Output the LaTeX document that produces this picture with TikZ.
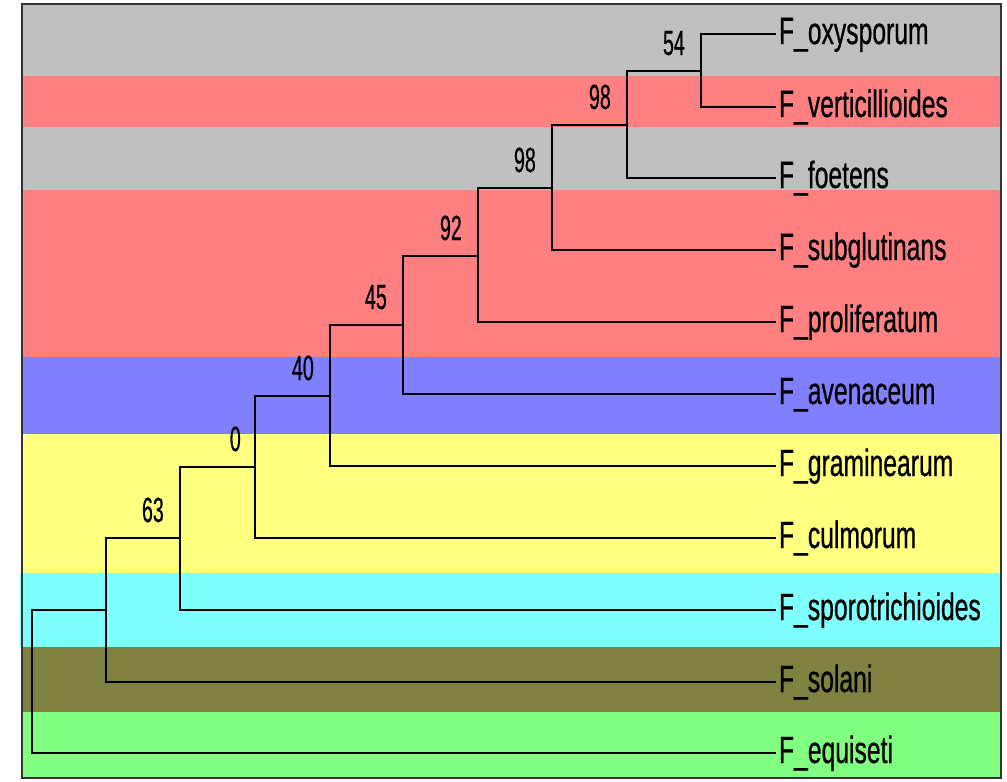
\documentclass[tikz,border=0pt]{standalone}
\usepackage{fontspec}
\newfontfamily\leaffont[FakeStretch=0.65,FakeBold=0.6]{Liberation Sans}
\newfontfamily\bootfont[FakeStretch=0.56,FakeBold=0.4]{Liberation Sans}
\definecolor{bgrey}{HTML}{C0C0C0}
\definecolor{bred}{HTML}{FF8080}
\definecolor{bblue}{HTML}{8080FF}
\definecolor{byellow}{HTML}{FFFF80}
\definecolor{bcyan}{HTML}{80FFFF}
\definecolor{bolive}{HTML}{808040}
\definecolor{bgreen}{HTML}{80FF80}
\begin{document}
\begin{tikzpicture}[x=1pt,y=-1pt,
  branch/.style={draw=black, line width=2.3pt},
  leaf/.style={anchor=west, inner xsep=3pt, inner ysep=0pt, outer sep=0pt, text height=28pt, text depth=8pt, font=\leaffont\fontsize{38}{40}\selectfont},
  boot/.style={anchor=base east, inner sep=0pt, font=\bootfont\fontsize{35}{36}\selectfont},
  band/.style={fill=#1, draw=none}]
\useasboundingbox (0,0) rectangle (1007,782);
\fill[white] (0,0) rectangle (1007,782);
% colour bands
\path[band=bgrey]   (22,4)   rectangle (1001,76);
\path[band=bred]    (22,76)  rectangle (1001,127);
\path[band=bgrey]   (22,127) rectangle (1001,190);
\path[band=bred]    (22,190) rectangle (1001,357);
\path[band=bblue]   (22,357) rectangle (1001,434);
\path[band=byellow] (22,434) rectangle (1001,573);
\path[band=bcyan]   (20,573) rectangle (1001,647);
\path[band=bolive]  (22,647) rectangle (1001,712);
\path[band=bgreen]  (22,712) rectangle (1001,778);
\draw[line width=2.3pt, draw=black!80] (22,4) rectangle (1001,778);
% leaves
\node[leaf] (oxy) at (776,34)  {F\_oxysporum};
\node[leaf] (ver) at (776,107) {F\_verticillioides};
\node[leaf] (foe) at (776,178) {F\_foetens};
\node[leaf] (sub) at (776,250) {F\_subglutinans};
\node[leaf] (pro) at (776,322) {F\_proliferatum};
\node[leaf] (ave) at (776,394) {F\_avenaceum};
\node[leaf] (gra) at (776,466) {F\_graminearum};
\node[leaf] (cul) at (776,538) {F\_culmorum};
\node[leaf] (spo) at (776,610) {F\_sporotrichioides};
\node[leaf] (sol) at (776,682) {F\_solani};
\node[leaf] (equ) at (776,753) {F\_equiseti};
% internal nodes
\coordinate (a54)  at (701,71);
\coordinate (a98a) at (627,125);
\coordinate (a98b) at (552,188);
\coordinate (a92)  at (478,256);
\coordinate (a45)  at (403,325);
\coordinate (a40)  at (330,396);
\coordinate (a0)   at (255,467);
\coordinate (a63)  at (180,538);
\coordinate (ax)   at (106,610);
\coordinate (root) at (32,682);
% branches
\draw[branch] (a54) |- (oxy.west);
\draw[branch] (a54) |- (ver.west);
\draw[branch] (a98a) |- (a54);
\draw[branch] (a98a) |- (foe.west);
\draw[branch] (a98b) |- (a98a);
\draw[branch] (a98b) |- (sub.west);
\draw[branch] (a92) |- (a98b);
\draw[branch] (a92) |- (pro.west);
\draw[branch] (a45) |- (a92);
\draw[branch] (a45) |- (ave.west);
\draw[branch] (a40) |- (a45);
\draw[branch] (a40) |- (gra.west);
\draw[branch] (a0) |- (a40);
\draw[branch] (a0) |- (cul.west);
\draw[branch] (a63) |- (a0);
\draw[branch] (a63) |- (spo.west);
\draw[branch] (ax) |- (a63);
\draw[branch] (ax) |- (sol.west);
\draw[branch] (root) |- (ax);
\draw[branch] (root) |- (equ.west);
% bootstrap values
\node[boot] (l54)  at ([shift={(-16,-16)}]a54)  {54};
\node[boot] (l98a) at ([shift={(-16,-16)}]a98a) {98};
\node[boot] (l98b) at ([shift={(-16,-16)}]a98b) {98};
\node[boot] (l92)  at ([shift={(-16,-16)}]a92)  {92};
\node[boot] (l45)  at ([shift={(-16,-16)}]a45)  {45};
\node[boot] (l40)  at ([shift={(-16,-16)}]a40)  {40};
\node[boot] (l0)   at ([shift={(-14,-16)}]a0)   {0};
\node[boot] (l63)  at ([shift={(-16,-16)}]a63)  {63};
\end{tikzpicture}
\end{document}
